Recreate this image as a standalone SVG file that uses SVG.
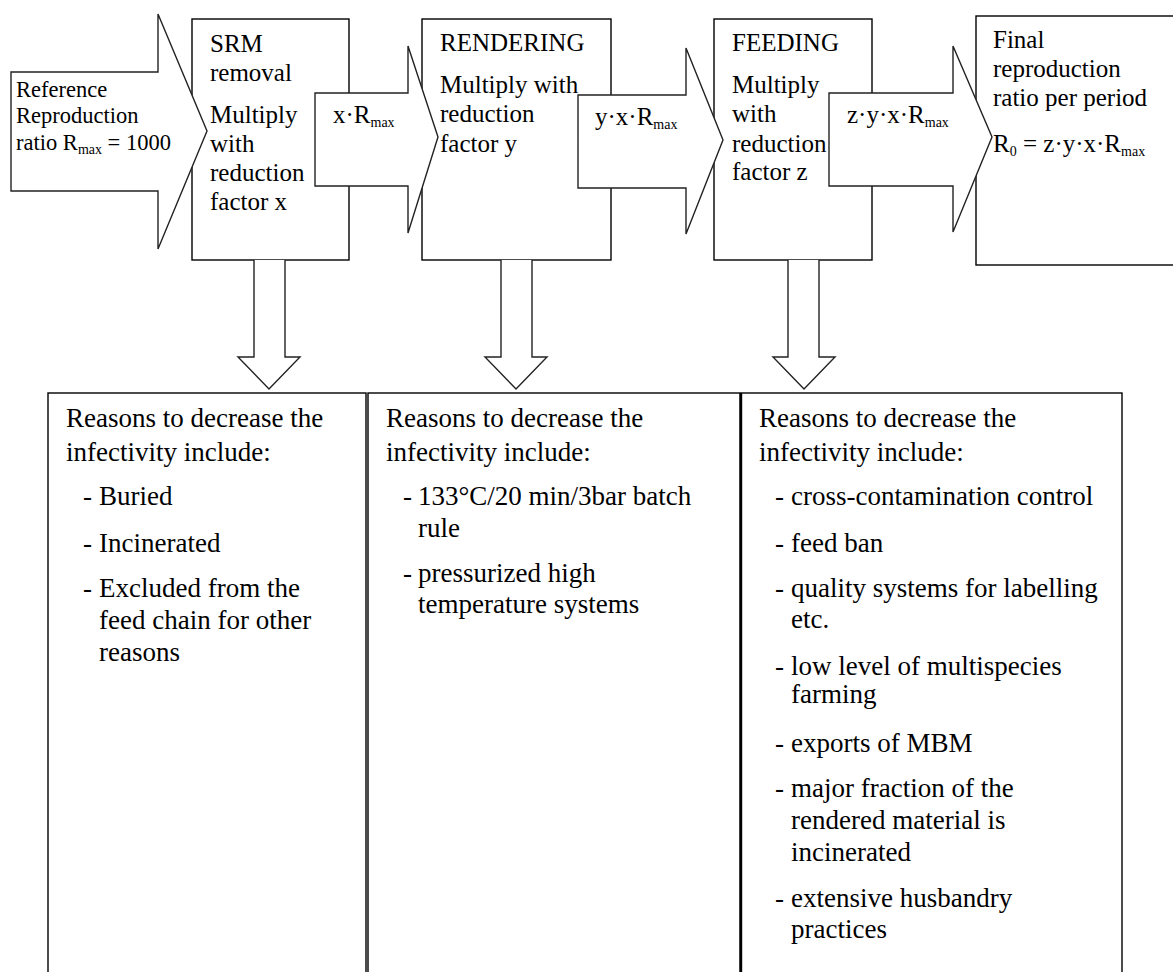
<svg xmlns="http://www.w3.org/2000/svg" width="1173" height="972" viewBox="0 0 1173 972">
<style>
.box{fill:#fff;stroke:#000;stroke-width:1.4}
.arr{fill:#fff;stroke:#222;stroke-width:1.4;stroke-linejoin:miter}
.t{font-size:25px}
.s{font-size:22.5px}
.b{font-size:27px}
.sub{font-size:14px}
</style>
<rect width="1173" height="972" fill="#fff"/>
<g id="bottom-boxes">
<g id="reasons-srm"><rect class="box" x="48" y="393" width="318" height="600"/></g>
<g id="reasons-rendering"><rect class="box" x="368" y="393" width="372" height="600"/></g>
<g id="reasons-feeding"><rect class="box" x="741" y="393" width="381" height="600"/><line x1="741" y1="393" x2="741" y2="972" stroke="#000" stroke-width="2.4"/></g>
</g>
<g id="srm"><rect class="box" x="192" y="19" width="157" height="241"/></g>
<g id="rendering"><rect class="box" x="422" y="19" width="189" height="241"/></g>
<g id="feeding"><rect class="box" x="714" y="19" width="158" height="241"/></g>
<g id="final"><rect class="box" x="976" y="16" width="210" height="249"/></g>
<g id="connectors">
<path id="ref-arrow" class="arr" d="M11,72 H158 V14 L207,131 L158,249 V191 H11 Z"/>
<path class="arr" d="M315,93 H408 V46 L438,137 L408,233 V186 H315 Z"/>
<path class="arr" d="M578,95 H686 V48 L723,140 L686,234 V188 H578 Z"/>
<path class="arr" d="M829,93 H953 V46 L992,137 L953,232 V186 H829 Z"/>
<path class="arr" d="M254,260 V357 H238 L269,389 L300,357 H285 V260"/>
<path class="arr" d="M501,260 V357 H485 L516,389 L547,357 H532 V260"/>
<path class="arr" d="M788,260 V357 H773 L804,389 L835,357 H819 V260"/>
</g>
<g id="labels" font-family="Liberation Serif, DejaVu Serif, serif" fill="#000">
<text class="s" x="16" y="97">Reference</text>
<text class="s" x="16" y="123">Reproduction</text>
<text class="s" x="16" y="150">ratio R<tspan class="sub" dy="4">max</tspan><tspan dy="-4"> = 1000</tspan></text>

<text class="t" x="210" y="52">SRM</text>
<text class="t" x="210" y="81">removal</text>
<text class="t" x="210" y="123">Multiply</text>
<text class="t" x="210" y="152">with</text>
<text class="t" x="210" y="181">reduction</text>
<text class="t" x="210" y="210">factor x</text>

<text class="t" x="333" y="123">x·R<tspan class="sub" dy="4">max</tspan></text>

<text class="t" x="440" y="51">RENDERING</text>
<text class="t" x="440" y="93">Multiply with</text>
<text class="t" x="440" y="122">reduction</text>
<text class="t" x="440" y="152">factor y</text>

<text class="t" x="595" y="125">y·x·R<tspan class="sub" dy="4">max</tspan></text>

<text class="t" x="732" y="51">FEEDING</text>
<text class="t" x="732" y="93">Multiply</text>
<text class="t" x="732" y="122">with</text>
<text class="t" x="732" y="152">reduction</text>
<text class="t" x="732" y="180">factor z</text>

<text class="t" x="847" y="123">z·y·x·R<tspan class="sub" dy="4">max</tspan></text>

<text class="t" x="993" y="48">Final</text>
<text class="t" x="993" y="77">reproduction</text>
<text class="t" x="993" y="106">ratio per period</text>
<text class="t" x="993" y="152">R<tspan class="sub" dy="4">0</tspan><tspan dy="-4"> = z·y·x·R</tspan><tspan class="sub" dy="4">max</tspan></text>

<text class="b" x="66" y="427">Reasons to decrease the</text>
<text class="b" x="66" y="461">infectivity include:</text>
<text class="b" x="83" y="505">-</text><text class="b" x="99" y="505">Buried</text>
<text class="b" x="83" y="552">-</text><text class="b" x="99" y="552">Incinerated</text>
<text class="b" x="83" y="597">-</text><text class="b" x="99" y="597">Excluded from the</text>
<text class="b" x="99" y="629">feed chain for other</text>
<text class="b" x="99" y="661">reasons</text>

<text class="b" x="386" y="427">Reasons to decrease the</text>
<text class="b" x="386" y="461">infectivity include:</text>
<text class="b" x="403" y="505">-</text><text class="b" x="418" y="505">133°C/20 min/3bar batch</text>
<text class="b" x="418" y="537">rule</text>
<text class="b" x="403" y="582">-</text><text class="b" x="418" y="582">pressurized high</text>
<text class="b" x="418" y="613">temperature systems</text>

<text class="b" x="759" y="427">Reasons to decrease the</text>
<text class="b" x="759" y="461">infectivity include:</text>
<text class="b" x="775" y="505">-</text><text class="b" x="791" y="505">cross-contamination control</text>
<text class="b" x="775" y="552">-</text><text class="b" x="791" y="552">feed ban</text>
<text class="b" x="775" y="597">-</text><text class="b" x="791" y="597">quality systems for labelling</text>
<text class="b" x="791" y="628">etc.</text>
<text class="b" x="775" y="675">-</text><text class="b" x="791" y="675">low level of multispecies</text>
<text class="b" x="791" y="703">farming</text>
<text class="b" x="775" y="752">-</text><text class="b" x="791" y="752">exports of MBM</text>
<text class="b" x="775" y="797">-</text><text class="b" x="791" y="797">major fraction of the</text>
<text class="b" x="791" y="829">rendered material is</text>
<text class="b" x="791" y="861">incinerated</text>
<text class="b" x="775" y="907">-</text><text class="b" x="791" y="907">extensive husbandry</text>
<text class="b" x="791" y="938">practices</text>
</g>
</svg>
